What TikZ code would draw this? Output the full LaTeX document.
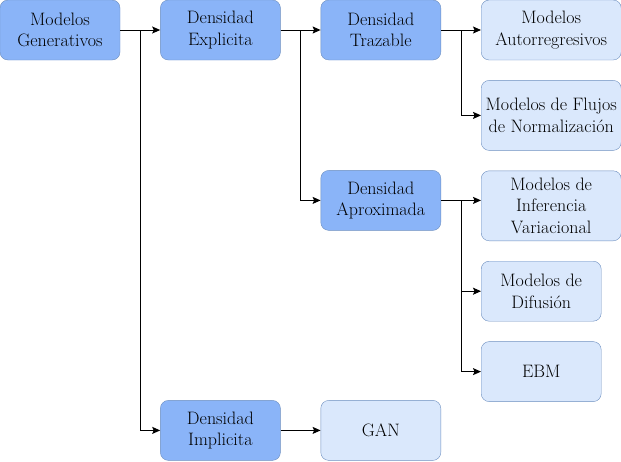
\documentclass[tikz,border=0pt]{standalone}
\usetikzlibrary{arrows.meta,positioning}
\definecolor{darkfill}{HTML}{8AB4F8}
\definecolor{lightfill}{HTML}{DAE8FC}
\definecolor{edge}{HTML}{6C8EBF}
\tikzset{box/.style={draw=edge, fill=darkfill, rounded corners=8pt, align=center, inner sep=0pt, minimum width=120pt, minimum height=60pt, font=\fontsize{18}{21.5}\selectfont}}
\tikzset{leaf/.style={box, fill=lightfill}}
\tikzset{line/.style={draw, line width=1pt, -{Stealth[length=8pt,width=7pt,inset=1.5pt]}}}

\begin{document}
\begin{tikzpicture}[x=1pt,y=-1pt,node distance=40pt]
	\useasboundingbox (0,0) rectangle (621,461);
	\node [box] at (60,30)                               (gen)    {Modelos\\ Generativos};
	\node [box, right= of gen]                           (expl)   {Densidad\\ Explicita};
	\node [box, right= of expl]                          (traz)   {Densidad\\ Trazable};
	\node [box, below=110pt of traz]                     (aprox)  {Densidad\\ Aproximada};
	\node [box, below=340pt of expl]                     (impl)   {Densidad\\ Implicita};
	\node [leaf, right= of traz, minimum width=140pt]    (auto)   {Modelos\\ Autorregresivos};
	\node [leaf, below=20pt of auto, minimum width=140pt, minimum height=70pt]   (flujo)  {Modelos de Flujos\\ de Normalización};
	\node [leaf, below=20pt of flujo, minimum width=140pt, minimum height=70pt]  (infer)  {Modelos de\\ Inferencia\\ Variacional};
	\node [leaf, below=20pt of infer.south west, anchor=north west]              (difu)   {Modelos de\\ Difusión};
	\node [leaf, below=20pt of difu]                     (ebm)    {EBM};
	\node [leaf, right= of impl]                         (gan)    {GAN};
	%
	\path [line] (gen)  --                (expl);
	\path [line] (gen.east)   -- ++(20,0) |- (impl.west);
	\path [line] (expl) --                (traz);
	\path [line] (expl.east)  -- ++(20,0) |- (aprox.west);
	\path [line] (traz) --                (auto);
	\path [line] (traz.east)  -- ++(20,0) |- (flujo.west);
	\path [line] (aprox.east) --          (aprox.east -| infer.west);
	\path [line] (aprox.east) -- ++(20,0) |- (difu.west);
	\path [line] (aprox.east) -- ++(20,0) |- (ebm.west);
	\path [line] (impl) --                (gan);
\end{tikzpicture}
\end{document}
